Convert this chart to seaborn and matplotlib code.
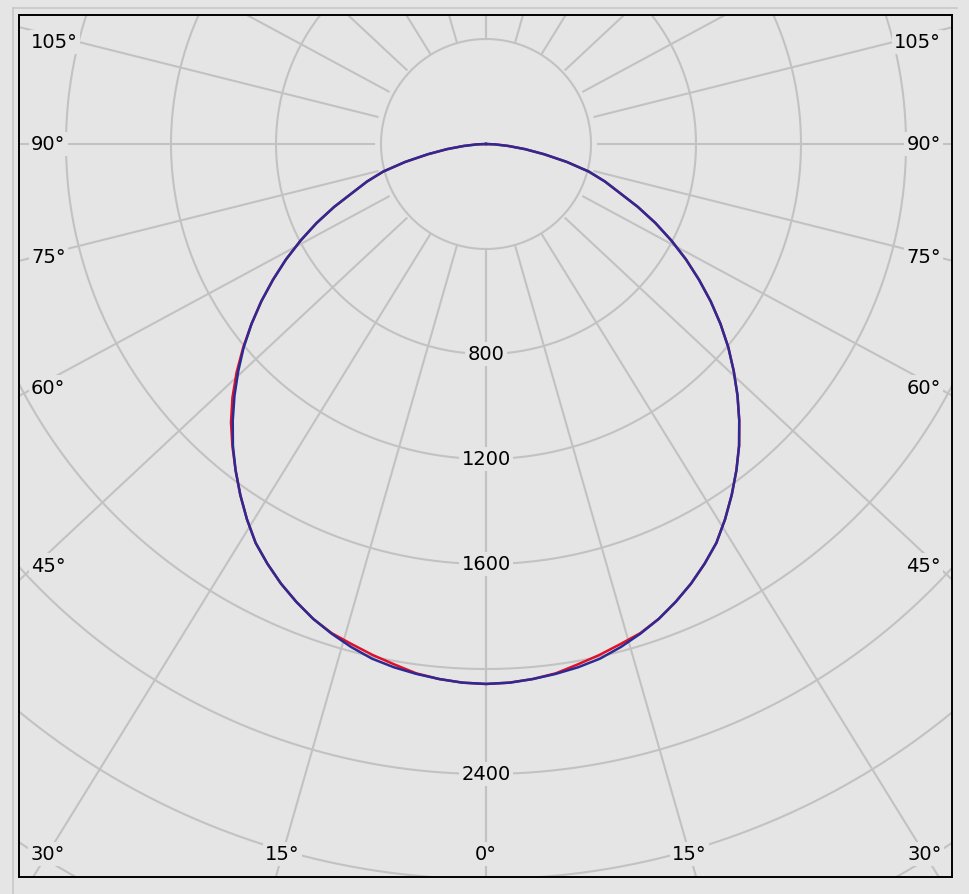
import numpy as np
import pandas as pd
import seaborn as sns
import matplotlib.pyplot as plt
from matplotlib.lines import Line2D

# ---------------- data ----------------
angles = [0, 2.5, 5, 7.5, 10, 12.5, 15, 17.5, 20, 22.5, 25, 27.5, 30, 32.5, 35, 37.5,
          40, 42.5, 45, 47.5, 50, 52.5, 55, 57.5, 60, 62.5, 65, 67.5, 70, 72.5, 75,
          77.5, 80, 82.5, 85, 87.5, 90]
# C90 (right) / C270 (left) plane - blue
c90 =  [2057, 2054, 2046, 2036, 2024, 2008, 1984, 1956, 1925, 1888, 1848, 1803, 1755, 1695,
        1632, 1567, 1500, 1428, 1355, 1280, 1205, 1126, 1045, 962, 880, 796, 712, 626, 540,
        475, 405, 315, 225, 150, 85, 35, 0]
c270 = [2057, 2054, 2046, 2036, 2024, 2008, 1984, 1956, 1925, 1888, 1848, 1803, 1755, 1695,
        1632, 1567, 1500, 1428, 1355, 1280, 1205, 1126, 1045, 962, 880, 796, 712, 626, 540,
        475, 405, 315, 225, 150, 85, 35, 0]
# C0 (right) / C180 (left) plane - red
c0 =   [2057, 2054, 2046, 2034, 2013, 1994, 1973, 1954, 1925, 1888, 1848, 1803, 1755, 1695,
        1632, 1567, 1500, 1428, 1355, 1280, 1205, 1126, 1045, 962, 880, 796, 712, 626, 540,
        475, 405, 315, 225, 150, 85, 35, 0]
c180 = [2057, 2054, 2046, 2034, 2013, 1994, 1973, 1954, 1925, 1888, 1848, 1803, 1755, 1695,
        1632, 1567, 1503, 1438, 1366, 1289, 1208, 1126, 1045, 962, 880, 796, 712, 626, 540,
        475, 405, 315, 225, 150, 85, 35, 0]
plane_names = ["C0-C180", "C90-C270"]
ring_values = [400, 800, 1200, 1600, 2000, 2400, 2800, 3200, 3600, 4000, 4400, 4800, 5200]
ring_labels = [800, 1200, 1600, 2400]
spoke_angles = list(range(0, 181, 15))
side_label_angles = [105, 90, 75, 60, 45]
bottom_label_angles = [30, 15, 0]

# ---------------- style ----------------
BG = "#e5e5e5"
GRID = "#c2c2c2"
sns.set_style({"axes.facecolor": BG, "figure.facecolor": BG})
plt.rcParams["font.family"] = ["DejaVu Sans"]

W, H = 969, 895
fig = plt.figure(figsize=(W / 100, H / 100), dpi=100)
L, R, T, B = 19, 952, 16, 878
ax = fig.add_axes([L / W, 1 - B / H, (R - L) / W, (B - T) / H])
ax.set_facecolor(BG)

s = 400 / 105.0          # candela per pixel
cx, cy = 486, 145         # polar origin in pixels
def px(xp, yp):
    return (xp - cx) * s, -(yp - cy) * s

xmin, ymax = px(L, T)
xmax, ymin = px(R, B)
ax.set_xlim(xmin, xmax)
ax.set_ylim(ymin, ymax)
ax.set_aspect("equal")
ax.set_xticks([]); ax.set_yticks([])
ax.grid(False)
for sp in ax.spines.values():
    sp.set_color("black"); sp.set_linewidth(1.4); sp.set_visible(True)

# ---------------- grid ----------------
phi = np.linspace(0, 2 * np.pi, 721)
for rv in ring_values:
    ax.plot(rv * np.cos(phi), rv * np.sin(phi), color=GRID, lw=1.5, zorder=1)
k = 1.07  # spoke direction stretch as drawn in the reference
def spoke_dir(a, side, stretch=k):
    t = np.deg2rad(a)
    return side * stretch * np.sin(t), -np.cos(t)
for a in spoke_angles:
    for side in (-1, 1):
        dx, dy = spoke_dir(a, side)
        ax.plot([dx * ring_values[0], dx * 8000], [dy * ring_values[0], dy * 8000],
                color=GRID, lw=1.5, zorder=1)

# ---------------- curves ----------------
rows = []
for name, left, right in [(plane_names[0], c180, c0), (plane_names[1], c270, c90)]:
    seq_a = [-a for a in angles[::-1]] + angles[1:]
    seq_r = left[::-1] + right[1:]
    for i, (a, r) in enumerate(zip(seq_a, seq_r)):
        t = np.deg2rad(a)
        rows.append({"plane": name, "order": i, "x": r * np.sin(t), "y": -r * np.cos(t)})
df = pd.DataFrame(rows)
sns.lineplot(data=df, x="x", y="y", hue="plane", hue_order=plane_names,
             palette=["#e0102a", "#2b2b96"], sort=False, estimator=None,
             lw=1.8, legend=False, ax=ax, zorder=3)
ax.set_xlabel(""); ax.set_ylabel("")

# ---------------- labels ----------------
FS = 14
bbox = dict(boxstyle="square,pad=0.12", fc=BG, ec="none")
for rv in ring_labels:
    ax.text(0, -rv, str(rv), ha="center", va="center", fontsize=FS, color="black",
            bbox=bbox, zorder=4)

xa_left = px(65, 0)[0]
ytop_lim = px(0, 43)[1]
for a in side_label_angles:
    dx, dy = spoke_dir(a, -1, stretch=1.0)
    y = min(dy * (xa_left / dx), ytop_lim)
    ax.text(px(31, 0)[0], y, f"{a}°", ha="left", va="center", fontsize=FS,
            bbox=bbox, zorder=4)
    ax.text(px(941, 0)[0], y, f"{a}°", ha="right", va="center", fontsize=FS,
            bbox=bbox, zorder=4)

yb = px(0, 855)[1]
for a in bottom_label_angles:
    for side in ((-1, 1) if a else (1,)):
        dx, dy = spoke_dir(a, side)
        t = yb / dy
        ax.text(dx * t, yb, f"{a}°", ha="center", va="center", fontsize=FS,
                bbox=bbox, zorder=4)

# outer sunken border lines
fig.add_artist(Line2D([13 / W, 13 / W], [0, 1 - 9 / H], color="#c8c8c8", lw=1.2))
fig.add_artist(Line2D([13 / W, 957 / W], [1 - 9 / H, 1 - 9 / H], color="#c8c8c8", lw=1.2))

fig.savefig("out.png", dpi=100, facecolor=BG)
